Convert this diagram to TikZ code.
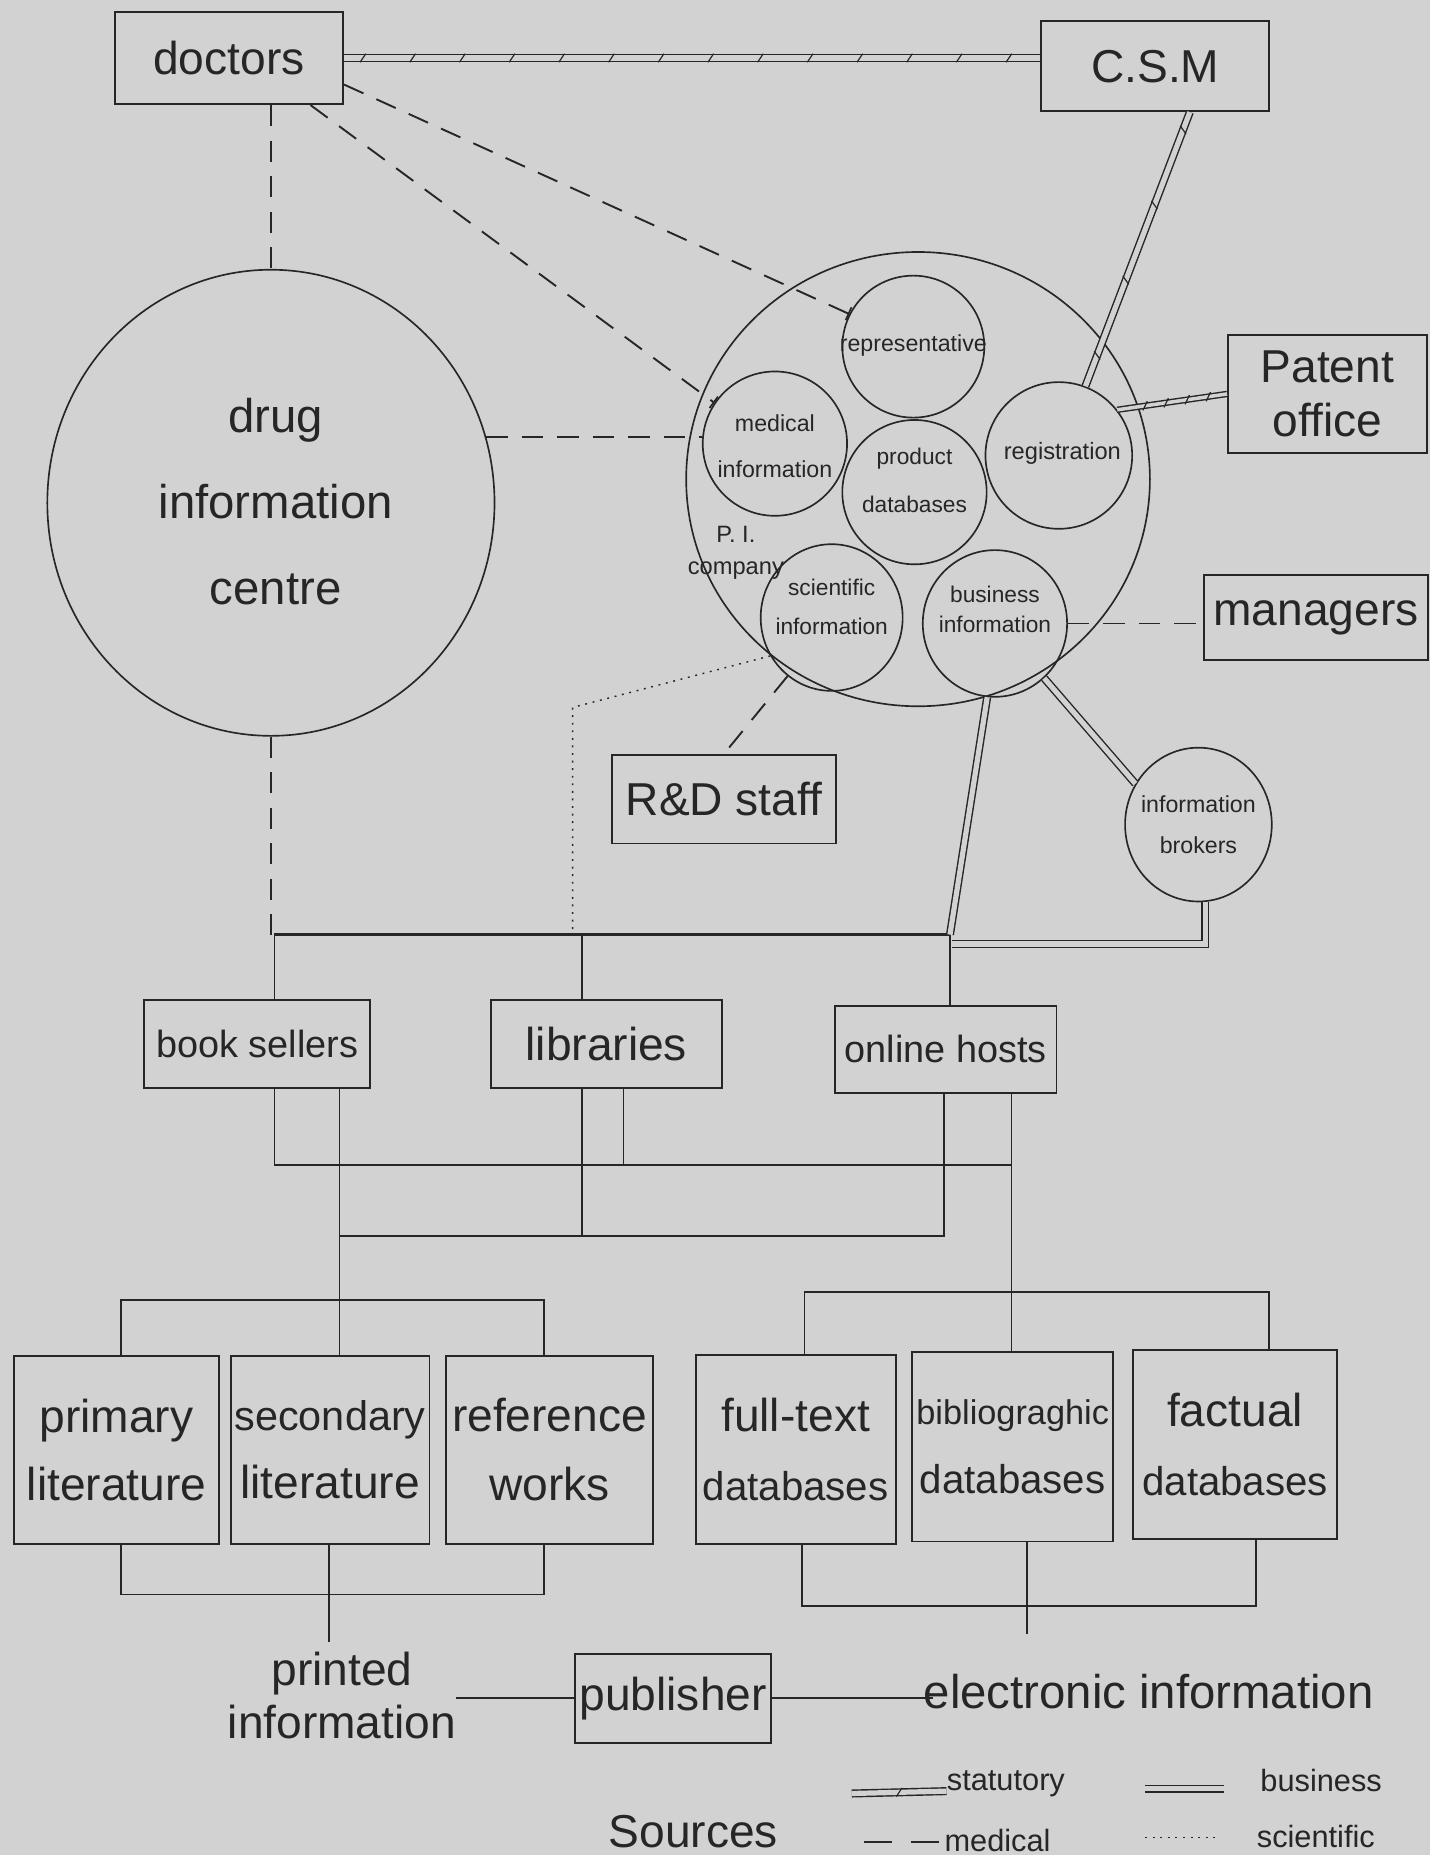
\documentclass[tikz,border=0pt]{standalone}
\usepackage{fontspec}
\setmainfont{Liberation Sans}
\usetikzlibrary{calc,shapes.geometric,decorations.markings,arrows.meta}
\definecolor{bg}{RGB}{210,210,210}
\definecolor{ink}{RGB}{38,38,38}
\newcommand\FntBig{\fontsize{19.5}{23}\selectfont}
\newcommand\FntMid{\fontsize{16}{19}\selectfont}
\newcommand\FntBox{\fontsize{19.5}{29}\selectfont}
\newcommand\FntLeg{\fontsize{13}{15}\selectfont}
\tikzset{
  every node/.style={text=ink},
  box/.style={draw=ink, line width=0.8pt, rectangle, inner sep=0pt},
  circ/.style={draw=ink, line width=0.7pt, circle, inner sep=0pt},
  ell/.style={draw=ink, line width=0.7pt, ellipse, inner sep=0pt},
  txt/.style={inner sep=0pt, align=center},
  link/.style={draw=ink, line width=0.8pt},
  medical/.style={draw=ink, line width=0.8pt, dash pattern=on 9pt off 6pt},
  scientific/.style={draw=ink, line width=0.6pt, dash pattern=on 0.8pt off 2.4pt},
  business/.style={draw=ink, line width=0.6pt, double=bg, double distance=2.2pt},
  statutory/.style={business, postaction={decorate, decoration={markings,
      mark=between positions 8pt and -4pt step #1 with {\draw[ink, line width=0.5pt] (-1.2pt,-1.8pt) -- (1.2pt,1.8pt);}}}},
  statutory/.default=21pt,
  stattick/.style={business, postaction={decorate, decoration={markings,
      mark=at position 0.5 with {\draw[ink, line width=0.5pt] (-1.2pt,-1.8pt) -- (1.2pt,1.8pt);}}}},
  endbar/.style={-{Bar[width=6pt,line width=0.7pt]}},
}
\begin{document}
\begin{tikzpicture}[x=0.5pt,y=-0.5pt]
\fill[bg] (0,0) rectangle (1209,1568);
\useasboundingbox (0,0) rectangle (1209,1568);

% ---------- boxes ----------
\node[box, minimum width=96.5pt, minimum height=39pt, font=\FntBig] (doctors) at (193.5,49) {doctors};
\node[box, minimum width=96.5pt, minimum height=38pt, font=\FntBig] (csm) at (976.5,56) {C.S.M};
\node[box, minimum width=84pt, minimum height=50pt, font=\FntBig, align=center] (patent) at (1122,333) {Patent\\office};
\node[box, minimum width=94.5pt, minimum height=36pt, font=\FntBig] (managers) at (1112.5,522) {managers};
\node[box, minimum width=95pt, minimum height=37.5pt, font=\FntBig] (rd) at (612,675.5) {R\&D staff};
\node[box, minimum width=95.5pt, minimum height=37.5pt, font=\FntMid] (books) at (217.5,882.5) {book sellers};
\node[box, minimum width=97.5pt, minimum height=37.5pt, font=\FntBig] (libs) at (512.5,882.5) {libraries};
\node[box, minimum width=93.5pt, minimum height=37pt, font=\FntMid] (online) at (799.5,887) {online hosts};

\node[box, minimum width=86.5pt, minimum height=79.5pt, font=\FntBox, align=center] (primary) at (98.5,1225.5) {primary\\literature};
\node[box, minimum width=84pt, minimum height=79.5pt, font=\FntBox, align=center] (secondary) at (279,1225.5) {{\fontsize{17.5}{29}\selectfont secondary}\\literature};
\node[box, minimum width=87.5pt, minimum height=79.5pt, font=\FntBox, align=center] (reference) at (464.5,1225.5) {reference\\works};
\node[box, minimum width=84.5pt, minimum height=80pt, font=\FntBox, align=center] (fulltext) at (672.5,1225) {full-text\\{\fontsize{17}{29}\selectfont databases}};
\node[box, minimum width=85pt, minimum height=80pt, font=\FntBox, align=center] (biblio) at (856,1223) {{\fontsize{14.5}{29}\selectfont bibliograghic}\\{\fontsize{17}{29}\selectfont databases}};
\node[box, minimum width=86pt, minimum height=80pt, font=\FntBox, align=center] (factual) at (1044,1221) {factual\\{\fontsize{17}{29}\selectfont databases}};
\node[box, minimum width=83pt, minimum height=37.5pt, font=\FntBig] (publisher) at (569,1435.5) {publisher};

% ---------- circles ----------
\node[ell, minimum width=189pt, minimum height=197pt] (dic) at (229,425) {};
\node[txt, font=\fontsize{20}{36.5}\selectfont] (dicT) at (233,424) {drug\\information\\centre};
\node[ell, minimum width=196pt, minimum height=192pt] (pic) at (776,405) {};
\node[txt, font=\fontsize{10}{13.5}\selectfont] (picT) at (622,467) {P. I.\\company};
\node[circ, minimum size=60pt] (rep) at (772,293) {};
\node[circ, minimum size=61pt] (med) at (655,375) {};
\node[circ, minimum size=61pt] (prod) at (773,416) {};
\node[circ, minimum size=62pt] (reg) at (895,385) {};
\node[ell, minimum width=60pt, minimum height=62pt] (sci) at (703,522) {};
\node[ell, minimum width=61pt, minimum height=62pt] (bus) at (841,527) {};
\node[ell, minimum width=62pt, minimum height=65pt] (brk) at (1013,697) {};
\node[txt, font=\fontsize{9.8}{12}\selectfont] (repT) at (772,292) {representative};
\node[txt, font=\fontsize{9.8}{19.5}\selectfont] (medT) at (655,377) {medical\\information};
\node[txt, font=\fontsize{9.6}{20}\selectfont] (prodT) at (773,406) {product\\databases};
\node[txt, font=\fontsize{10}{12}\selectfont] (regT) at (898,383) {registration};
\node[txt, font=\fontsize{9.6}{16.5}\selectfont] (sciT) at (703,513) {scientific\\information};
\node[txt, font=\fontsize{9.6}{13}\selectfont] (busT) at (841,515) {business\\information};
\node[txt, font=\fontsize{9.8}{17.5}\selectfont] (brkT) at (1013,697) {information\\brokers};

% ---------- free texts ----------
\node[txt, font=\fontsize{19.5}{22.5}\selectfont] (printed) at (289,1433) {printed\\information};
\node[txt, font=\fontsize{20}{24}\selectfont] (electronic) at (971,1430) {electronic information};
\node[txt, font=\FntBig] (sources) at (586,1548) {Sources};

% ---------- statutory / business ----------
\draw[statutory] (doctors.east) -- (doctors.east -| csm.west);
\draw[statutory=34pt] (csm.-53) -- (reg.69);
\draw[statutory=9pt, double distance=1.5pt] (patent.west) -- (reg.38);

% ---------- medical ----------
\draw[medical, endbar] (doctors.-13) -- (rep.153);
\draw[medical, endbar] (doctors.-30) -- (med.146);
\draw[medical] (doctors.south -| dic.north) -- (dic.north);
\draw[medical] (dic.17) -- (dic.17 -| med.west);
\draw[medical] (bus.east) -- (bus.east -| managers.west);
\draw[medical] (sci.-127) -- (rd.north);

% ---------- top distribution line ----------
\coordinate (tb) at (232,790);
\coordinate (bsT) at ($(books.north)+(14.5,0)$);
\coordinate (liT) at ($(libs.north)+(-20.5,0)$);
\coordinate (onT) at ($(online.north)+(3.5,0)$);
\draw[medical] (dic.south) -- (dic.south |- tb);
\coordinate (dotc) at (484,598);
\draw[scientific] (sci.212) -- (dotc) -- (dotc |- tb);
\draw[link, line width=1.3pt] (bsT |- tb) -- (onT |- tb);
\draw[link] (bsT) -- (bsT |- tb);
\draw[link] (liT) -- (liT |- tb);
\draw[link] (onT) -- (onT |- tb);
\draw[business] (bus.-96) -- (onT |- tb);
\draw[business] (bus.-48) -- (brk.147);
\coordinate (tb2) at (805,798);
\draw[business] (brk.-85) |- (tb2);

% ---------- middle networks ----------
\coordinate (bsB1) at ($(books.south)+(14.5,0)$);
\coordinate (bsB2) at ($(books.south)+(69.5,0)$);
\coordinate (liB1) at ($(libs.south)+(-20.5,0)$);
\coordinate (liB2) at ($(libs.south)+(14.5,0)$);
\coordinate (onB1) at ($(online.south)+(-1.5,0)$);
\coordinate (onB2) at ($(online.south)+(55.5,0)$);
\coordinate (ej) at (855,985);
\coordinate (pj) at (287,1045);
\coordinate (bbT) at ($(biblio.north)+(-1,0)$);
\coordinate (scT) at ($(secondary.north)+(8,0)$);
\draw[link] (bsB1) |- (ej);
\draw[link] (liB2) -- (liB2 |- ej);
\draw[link] (onB2) -- (bbT);
\draw[link] (onB1) |- (pj);
\draw[link] (liB1) -- (liB1 |- pj);
\draw[link] (bsB2) -- (scT);

% ---------- upper trees ----------
\coordinate (prT) at ($(primary.north)+(3.5,0)$);
\coordinate (rfT) at ($(reference.north)+(-4.5,0)$);
\coordinate (ptl) at ($(prT)+(0,-46)$);
\draw[link] (prT) -- (ptl) -| (rfT);
\coordinate (ftT) at ($(fulltext.north)+(7.5,0)$);
\coordinate (faT) at ($(factual.north)+(29,0)$);
\coordinate (etl) at ($(ftT)+(0,-52)$);
\draw[link] (ftT) -- (etl) -| (faT);

% ---------- lower trees ----------
\coordinate (prB) at ($(primary.south)+(3.5,0)$);
\coordinate (rfB) at ($(reference.south)+(-4.5,0)$);
\coordinate (plb) at ($(prB)+(0,42)$);
\draw[link] (prB) -- (plb) -| (rfB);
\coordinate (scB) at ($(secondary.south)+(-1,0)$);
\draw[link] (scB) -- ($(scB |- printed.north)+(0,-8)$);
\coordinate (ftB) at ($(fulltext.south)+(5.5,0)$);
\coordinate (faB) at ($(factual.south)+(18,0)$);
\coordinate (elb) at ($(ftB)+(0,52)$);
\draw[link] (ftB) -- (elb) -| (faB);
\coordinate (bbB) at ($(biblio.south)+(12,0)$);
\coordinate (bbE) at ($(bbB)+(0,77)$);
\draw[link] (bbB) -- (bbE);
\draw[link] (publisher.west) -- (publisher.west -| printed.east);
\draw[link] (publisher.east) -- ($(publisher.east -| electronic.west)+(8,0)$);

% ---------- legend ----------
\coordinate (lgS1) at (720,1516);
\coordinate (lgS2) at (800,1514);
\draw[stattick] (lgS1) -- (lgS2);
\node[txt, font=\FntLeg, anchor=west] (lgSt) at (800,1508) {statutory};
\coordinate (lgB1) at (968,1512);
\coordinate (lgB2) at (1035,1512);
\draw[business] (lgB1) -- (lgB2);
\node[txt, font=\FntLeg, anchor=west] (lgBu) at (1065,1505) {business};
\coordinate (lgM1) at (730,1557);
\coordinate (lgM2) at (795,1557);
\draw[medical, line width=0.7pt, dash pattern=on 12pt off 8pt] (lgM1) -- (lgM2);
\node[txt, font=\FntLeg, anchor=west] (lgMe) at (798,1556) {medical};
\coordinate (lgD1) at (968,1553);
\coordinate (lgD2) at (1030,1553);
\draw[scientific] (lgD1) -- (lgD2);
\node[txt, font=\FntLeg, anchor=west] (lgSc) at (1062,1552) {scientific};
\end{tikzpicture}
\end{document}
